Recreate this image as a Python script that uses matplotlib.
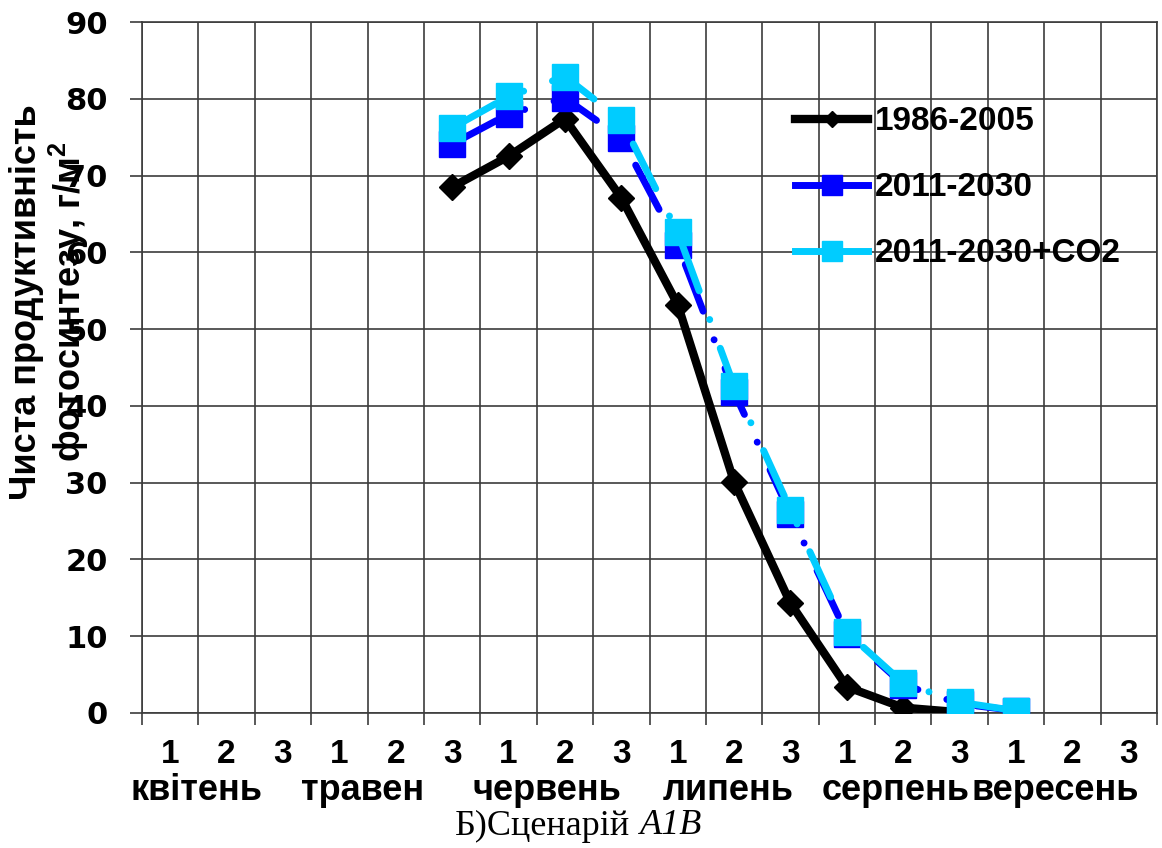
import matplotlib.pyplot as plt
import numpy as np
from matplotlib.lines import Line2D

# decades (1-3) within each month, April to September
decade_labels = ["1", "2", "3"] * 6
month_labels = ["квітень", "травен", "червень", "липень", "серпень", "вересень"]

# net photosynthesis productivity, g/m2; series start at the 3rd decade of May
start = 5
base_1986_2005 = [68.5, 72.5, 77.4, 67.1, 53.2, 30.1, 14.3, 3.4, 0.7, 0.1]
scen_2011_2030 = [74.1, 78.0, 80.1, 74.9, 61.0, 41.8, 25.9, 10.3, 3.7, 1.2, 0.3]
scen_2011_2030_co2 = [76.2, 80.3, 82.9, 77.2, 62.6, 42.6, 26.5, 10.5, 3.9, 1.4, 0.3]

series_names = ["1986-2005", "2011-2030", "2011-2030+CO2"]

plt.rcParams['mathtext.fontset'] = 'custom'
plt.rcParams['mathtext.rm'] = 'Liberation Sans:bold'
plt.rcParams['mathtext.sf'] = 'Liberation Sans:bold'

W, H = 1162, 848
fig = plt.figure(figsize=(W / 100, H / 100), dpi=100)
ax = fig.add_axes([142 / W, 1 - 713 / H, (1157 - 142) / W, (713 - 22) / H])

grid_c = "#3c3c3c"
long_dash_dot = (0, (7.2, 4.4, 0.01, 4.4))

x_base = np.arange(start, start + len(base_1986_2005))
x_scen = np.arange(start, start + len(scen_2011_2030))

ax.plot(x_base, base_1986_2005, color="black", lw=6, marker="D", ms=13,
        solid_joinstyle="round", zorder=3)
ax.plot(x_scen, scen_2011_2030, color="#0000ff", lw=5, ls=long_dash_dot,
        dash_capstyle="round", marker="s", ms=18.5, zorder=4)
ax.plot(x_scen, scen_2011_2030_co2, color="#00ccff", lw=5, ls=long_dash_dot,
        dash_capstyle="round", marker="s", ms=18.5, zorder=5)

ax.set_xlim(-0.5, len(decade_labels) - 0.5)
ax.set_ylim(0, 90)
ax.set_xticks(np.arange(len(decade_labels) + 1) - 0.5)
ax.set_xticklabels([])
ax.set_yticks(np.arange(0, 91, 10))
ax.grid(True, color=grid_c, lw=1.2)
ax.set_axisbelow(True)
for s in ax.spines.values():
    s.set_color(grid_c)
    s.set_linewidth(1.2)
ax.tick_params(axis="both", direction="out", length=8.6, width=1.2, color=grid_c)
ax.tick_params(axis="y", pad=16, labelsize=22)
for lab in ax.get_yticklabels():
    lab.set_fontfamily("DejaVu Sans")
    lab.set_fontweight("bold")

# two-level category labels under the axis
xt = ax.get_xaxis_transform()
for i, d in enumerate(decade_labels):
    ax.text(i, -0.06, d, transform=xt, ha="center", va="center",
            fontsize=24, fontweight="bold", family="Liberation Sans")
month_x = [0.47, 3.42, 6.68, 9.9, 12.87, 15.69]
for mx, m in zip(month_x, month_labels):
    ax.text(mx, -0.112, m, transform=xt, ha="center", va="center",
            fontsize=26, fontweight="bold", family="Liberation Sans")

fig.text(50 / W, 1 - 302 / H, "Чиста продуктивність\nфотосинтезу, г/м$^{\\mathsf{2}}$",
         rotation=90, ha="center", va="center", multialignment="center",
         fontsize=26, fontweight="bold", family="Liberation Sans", linespacing=1.1)

handles = [
    Line2D([], [], color="black", lw=6, marker="D", ms=8),
    Line2D([], [], color="#0000ff", lw=5, marker="s", ms=14),
    Line2D([], [], color="#00ccff", lw=5, marker="s", ms=14),
]
fig.legend(handles, series_names, loc="center left",
           bbox_to_anchor=(795 / W, 1 - 188 / H), frameon=False,
           borderpad=0, borderaxespad=0, handlelength=2.2, handletextpad=0.2,
           labelspacing=1.05,
           prop={"family": "Liberation Sans", "weight": "bold", "size": 24})

# caption: scenario name in italics
fig.text(630 / W, 1 - 826 / H, "Б)Сценарій", ha="right", va="center",
         fontsize=26, family="Liberation Serif")
fig.text(640 / W, 1 - 826 / H, "A1B", ha="left", va="center",
         fontsize=26, family="Liberation Serif", style="italic")

fig.savefig("out.png", dpi=100)
